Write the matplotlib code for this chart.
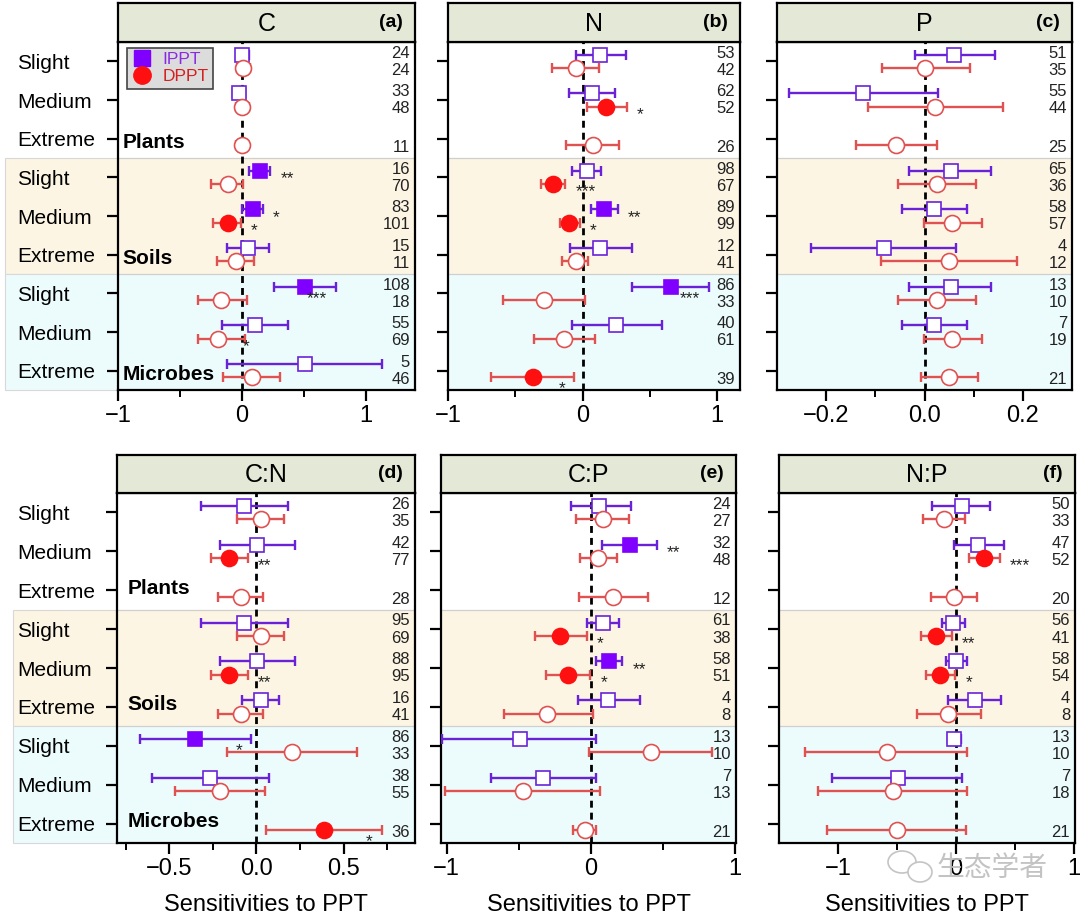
import numpy as np
import matplotlib.pyplot as plt
import matplotlib.transforms as mtransforms
from matplotlib.lines import Line2D
from matplotlib.patches import Rectangle, Ellipse

plt.rcParams['font.family'] = ['Liberation Sans', 'DejaVu Sans']

nan = np.nan

# rows top -> bottom
row_names = ['Slight', 'Medium', 'Extreme'] * 3
group_names = ['Plants', 'Soils', 'Microbes']
titles = ['C', 'N', 'P', 'C:N', 'C:P', 'N:P']
tags = ['(a)', '(b)', '(c)', '(d)', '(e)', '(f)']

# (a) C
c_ippt = [0.005, -0.02, nan, 0.15, 0.09, 0.05, 0.51, 0.11, 0.51]
c_ippt_lo = [-0.04, -0.07, nan, 0.06, 0.0, -0.12, 0.26, -0.16, -0.12]
c_ippt_hi = [0.06, 0.03, nan, 0.23, 0.17, 0.22, 0.76, 0.37, 1.13]
c_ippt_n = [24, 33, None, 16, 83, 15, 108, 55, 5]
c_ippt_sig = ['', '', '', '**', '*', '', '***', '', '']
c_dppt = [0.01, 0.005, 0.0, -0.115, -0.115, -0.05, -0.17, -0.19, 0.086]
c_dppt_lo = [-0.04, -0.05, -0.05, -0.25, -0.23, -0.2, -0.35, -0.35, -0.15]
c_dppt_hi = [0.07, 0.06, 0.05, 0.01, -0.01, 0.1, 0.04, 0.03, 0.31]
c_dppt_n = [24, 48, 11, 70, 101, 11, 18, 69, 46]
c_dppt_sig = ['', '', '', '', '*', '', '', '', '']

# (b) N
n_ippt = [0.13, 0.07, nan, 0.03, 0.16, 0.13, 0.66, 0.25, nan]
n_ippt_lo = [-0.05, -0.1, nan, -0.08, 0.06, -0.09, 0.37, -0.08, nan]
n_ippt_hi = [0.32, 0.24, nan, 0.14, 0.26, 0.37, 0.94, 0.59, nan]
n_ippt_n = [53, 62, None, 98, 89, 12, 86, 40, None]
n_ippt_sig = ['', '', '', '', '**', '', '***', '', '']
n_dppt = [-0.05, 0.175, 0.08, -0.22, -0.1, -0.05, -0.29, -0.14, -0.37]
n_dppt_lo = [-0.23, 0.03, -0.12, -0.31, -0.17, -0.15, -0.59, -0.36, -0.68]
n_dppt_hi = [0.12, 0.33, 0.27, -0.13, -0.02, 0.04, 0.02, 0.09, -0.06]
n_dppt_n = [42, 52, 26, 67, 99, 41, 33, 61, 39]
n_dppt_sig = ['', '*', '', '***', '*', '', '', '', '*']

# (c) P
p_ippt = [0.061, -0.125, nan, 0.053, 0.02, -0.082, 0.053, 0.02, nan]
p_ippt_lo = [-0.019, -0.276, nan, -0.031, -0.046, -0.23, -0.031, -0.046, nan]
p_ippt_hi = [0.143, 0.027, nan, 0.136, 0.086, 0.065, 0.136, 0.086, nan]
p_ippt_n = [51, 55, None, 65, 58, 4, 13, 7, None]
p_ippt_sig = [''] * 9
p_dppt = [0.001, 0.022, -0.058, 0.025, 0.055, 0.05, 0.025, 0.055, 0.05]
p_dppt_lo = [-0.086, -0.115, -0.14, -0.054, -0.002, -0.088, -0.054, -0.002, -0.007]
p_dppt_hi = [0.092, 0.16, 0.026, 0.105, 0.116, 0.189, 0.105, 0.116, 0.108]
p_dppt_n = [35, 44, 25, 36, 57, 12, 10, 19, 21]
p_dppt_sig = [''] * 9

# (d) C:N
cn_ippt = [-0.071, 0.006, nan, -0.071, 0.006, 0.029, -0.35, -0.268, nan]
cn_ippt_lo = [-0.32, -0.21, nan, -0.32, -0.21, -0.08, -0.67, -0.6, nan]
cn_ippt_hi = [0.18, 0.22, nan, 0.18, 0.22, 0.13, -0.03, 0.07, nan]
cn_ippt_n = [26, 42, None, 95, 88, 16, 86, 38, None]
cn_ippt_sig = ['', '', '', '', '', '', '*', '', '']
cn_dppt = [0.029, -0.157, -0.086, 0.029, -0.157, -0.086, 0.205, -0.21, 0.387]
cn_dppt_lo = [-0.11, -0.26, -0.22, -0.11, -0.26, -0.22, -0.17, -0.47, 0.057]
cn_dppt_hi = [0.16, -0.05, 0.04, 0.16, -0.05, 0.04, 0.58, 0.048, 0.72]
cn_dppt_n = [35, 77, 28, 69, 95, 41, 33, 55, 36]
cn_dppt_sig = ['', '**', '', '', '**', '', '', '', '*']

# (e) C:P
cp_ippt = [0.06, 0.27, nan, 0.088, 0.127, 0.118, -0.49, -0.33, nan]
cp_ippt_lo = [-0.14, 0.076, nan, -0.023, 0.037, -0.09, -1.03, -0.69, nan]
cp_ippt_hi = [0.28, 0.46, nan, 0.2, 0.22, 0.34, 0.037, 0.037, nan]
cp_ippt_n = [24, 32, None, 61, 58, 4, 13, 7, None]
cp_ippt_sig = ['', '**', '', '', '**', '', '', '', '']
cp_dppt = [0.083, 0.053, 0.157, -0.212, -0.16, -0.3, 0.42, -0.47, -0.04]
cp_dppt_lo = [-0.10, -0.074, -0.08, -0.39, -0.31, -0.6, -0.01, -1.01, -0.12]
cp_dppt_hi = [0.265, 0.18, 0.40, -0.028, -0.005, 0.014, 0.84, 0.065, 0.037]
cp_dppt_n = [27, 48, 12, 38, 51, 8, 10, 13, 21]
cp_dppt_sig = ['', '', '', '*', '*', '', '', '', '']

# (f) N:P
np_ippt = [0.048, 0.19, nan, -0.028, 0.0, 0.16, -0.014, -0.49, nan]
np_ippt_lo = [-0.2, -0.017, nan, -0.12, -0.087, -0.065, -0.065, -1.05, nan]
np_ippt_hi = [0.29, 0.41, nan, 0.076, 0.09, 0.386, 0.04, 0.056, nan]
np_ippt_n = [50, 47, None, 56, 58, 4, 13, 7, None]
np_ippt_sig = [''] * 9
np_dppt = [-0.1, 0.24, -0.017, -0.17, -0.135, -0.065, -0.586, -0.535, -0.496]
np_dppt_lo = [-0.28, 0.11, -0.21, -0.3, -0.256, -0.33, -1.276, -1.17, -1.09]
np_dppt_hi = [0.08, 0.37, 0.18, -0.037, -0.008, 0.21, 0.096, 0.096, 0.085]
np_dppt_n = [33, 52, 20, 41, 54, 8, 10, 18, 21]
np_dppt_sig = ['', '***', '', '**', '*', '', '', '', '']

# star without a filled marker: (panel, row, series)
lone_stars = [(0, 7, 'dppt', '*')]

# axis ticks
major_ticks = [[-1, 0, 1], [-1, 0, 1], [-0.2, 0.0, 0.2], [-0.5, 0.0, 0.5], [-1, 0, 1], [-1, 0, 1]]
major_labels = [['\u22121', '0', '1'], ['\u22121', '0', '1'], ['\u22120.2', '0.0', '0.2'],
                ['\u22120.5', '0.0', '0.5'], ['\u22121', '0', '1'], ['\u22121', '0', '1']]
minor_ticks = [[-0.5, 0.5], [-0.5, 0.5], [-0.1, 0.1], [-0.75, -0.25, 0.25, 0.75], [-0.5, 0.5], [-0.5, 0.5]]
xlims = [(-1, 1.4), (-1, 1.17), (-0.3, 0.3), (-0.8, 0.91), (-1.04, 1.01), (-1.5, 1.01)]

panels = [
    (c_ippt, c_ippt_lo, c_ippt_hi, c_ippt_n, c_ippt_sig, c_dppt, c_dppt_lo, c_dppt_hi, c_dppt_n, c_dppt_sig),
    (n_ippt, n_ippt_lo, n_ippt_hi, n_ippt_n, n_ippt_sig, n_dppt, n_dppt_lo, n_dppt_hi, n_dppt_n, n_dppt_sig),
    (p_ippt, p_ippt_lo, p_ippt_hi, p_ippt_n, p_ippt_sig, p_dppt, p_dppt_lo, p_dppt_hi, p_dppt_n, p_dppt_sig),
    (cn_ippt, cn_ippt_lo, cn_ippt_hi, cn_ippt_n, cn_ippt_sig, cn_dppt, cn_dppt_lo, cn_dppt_hi, cn_dppt_n, cn_dppt_sig),
    (cp_ippt, cp_ippt_lo, cp_ippt_hi, cp_ippt_n, cp_ippt_sig, cp_dppt, cp_dppt_lo, cp_dppt_hi, cp_dppt_n, cp_dppt_sig),
    (np_ippt, np_ippt_lo, np_ippt_hi, np_ippt_n, np_ippt_sig, np_dppt, np_dppt_lo, np_dppt_hi, np_dppt_n, np_dppt_sig),
]

# colours
purple = '#8000ff'
purple_bar = '#6a22d8'
red = '#ff1010'
red_bar = '#e05252'
soil_col = '#fdf5e3'
microbe_col = '#ecfcfd'
title_col = '#e3e9d6'

W, H = 1080, 917
fig = plt.figure(figsize=(W / 100, H / 100), dpi=100)


def box(x0, x1, y0, y1):
    return [x0 / W, 1 - y1 / H, (x1 - x0) / W, (y1 - y0) / H]


panel_x = [(118, 415), (448, 740), (777, 1072), (117, 415), (441, 736), (779, 1075)]
panel_y = [(3, 42, 390)] * 3 + [(455, 493, 843)] * 3
band_left = {0: 5, 3: 13}
group_x = {0: 0.015, 3: 0.035}
group_dy = {0: 0.1, 3: -0.05}

rows = np.arange(1, 10)
off = 0.17


def draw_series(ax, ypos, mean, lo, hi, sig, face, bar, marker, ms):
    mean = np.array(mean, dtype=float)
    lo = np.array(lo, dtype=float)
    hi = np.array(hi, dtype=float)
    ok = ~np.isnan(mean)
    ax.errorbar(mean[ok], ypos[ok], xerr=[mean[ok] - lo[ok], hi[ok] - mean[ok]], fmt='none',
                ecolor=bar, elinewidth=1.7, capsize=3.5, capthick=1.7, zorder=3)
    for k in np.where(ok)[0]:
        filled = sig[k] != ''
        ax.plot(mean[k], ypos[k], marker=marker, ms=ms, ls='none',
                mfc=face if filled else 'white', mec=face if filled else bar,
                mew=1.2, zorder=4)


def put_star(ax, k, hi, y, txt, span):
    # microbe rows: stars sit under the bar end; others to the right of it
    if k >= 6:
        ax.text(hi - 0.03 * span, y + 0.3, txt, ha='right', va='center',
                fontsize=12.5, color='#222222', zorder=5)
    else:
        ax.text(hi + 0.035 * span, y + 0.2, txt, ha='left', va='center',
                fontsize=12.5, color='#222222', zorder=5)


for i in range(6):
    x0, x1 = panel_x[i]
    yt, yp, yb = panel_y[i]
    ax = fig.add_axes(box(x0, x1, yp, yb))
    tax = fig.add_axes(box(x0, x1, yt, yp))

    # title bar
    tax.set_facecolor(title_col)
    tax.set_xticks([])
    tax.set_yticks([])
    for s in tax.spines.values():
        s.set_linewidth(1.6)
    tax.text(0.5, 0.47, titles[i], ha='center', va='center', fontsize=18, transform=tax.transAxes)
    tax.text(1 - 12 / (x1 - x0), 0.5, tags[i], ha='right', va='center', fontsize=14,
             fontweight='bold', transform=tax.transAxes)

    (im, il, ih, inn, isg, dm, dl, dh, dn, dsg) = panels[i]
    span = xlims[i][1] - xlims[i][0]

    ax.axhspan(3.5, 6.5, color=soil_col, zorder=0, lw=0)
    ax.axhspan(6.5, 9.5, color=microbe_col, zorder=0, lw=0)
    ax.axhline(3.5, color='#cfcfcf', lw=0.9, zorder=0.5)
    ax.axhline(6.5, color='#cfcfcf', lw=0.9, zorder=0.5)
    if i in band_left:
        tr = mtransforms.blended_transform_factory(fig.transFigure, ax.transData)
        bx = band_left[i] / W
        bw = x0 / W - bx
        fig.add_artist(Rectangle((bx, 3.5), bw, 3, transform=tr, facecolor=soil_col,
                                 edgecolor='#d8d8d8', lw=0.8, zorder=-1))
        fig.add_artist(Rectangle((bx, 6.5), bw, 3, transform=tr, facecolor=microbe_col,
                                 edgecolor='#d8d8d8', lw=0.8, zorder=-1))

    ax.axvline(0, color='black', ls=(0, (2.5, 1.8)), lw=2, zorder=2)

    draw_series(ax, rows - off, im, il, ih, isg, purple, purple_bar, 's', 10.5)
    draw_series(ax, rows + off, dm, dl, dh, dsg, red, red_bar, 'o', 11.5)

    # sample sizes and significance
    trn = mtransforms.blended_transform_factory(ax.transAxes, ax.transData)
    xr = 1 - 5 / (x1 - x0)
    for k in range(9):
        if inn[k] is not None:
            ax.text(xr, rows[k] - 0.21, str(inn[k]), transform=trn, ha='right', va='center',
                    fontsize=12, color='#222222')
        if dn[k] is not None:
            ax.text(xr, rows[k] + 0.23, str(dn[k]), transform=trn, ha='right', va='center',
                    fontsize=12, color='#222222')
        if isg[k]:
            put_star(ax, k, ih[k], rows[k] - off, isg[k], span)
        if dsg[k]:
            put_star(ax, k, dh[k], rows[k] + off, dsg[k], span)
    for (pi, rk, ser, txt) in lone_stars:
        if pi == i:
            hh = dh[rk] if ser == 'dppt' else ih[rk]
            yy = rows[rk] + off if ser == 'dppt' else rows[rk] - off
            ax.text(hh - 0.01 * span, yy + 0.2, txt, ha='left', va='center',
                    fontsize=12.5, color='#222222', zorder=5)

    ax.set_xlim(*xlims[i])
    ax.set_ylim(9.5, 0.5)
    ax.set_xticks(major_ticks[i])
    ax.set_xticklabels(major_labels[i])
    ax.set_xticks(minor_ticks[i], minor=True)
    ax.set_yticks(rows)
    ax.tick_params(axis='x', which='major', direction='out', length=8, width=1.6,
                   labelsize=17, pad=3)
    ax.tick_params(axis='x', which='minor', direction='out', length=5, width=1.4)
    ax.tick_params(axis='y', direction='out', length=8, width=1.6)
    for s in ax.spines.values():
        s.set_linewidth(1.6)

    if i in (0, 3):
        # group labels
        for g in range(3):
            ax.text(group_x[i], 3 * g + 3 + group_dy[i], group_names[g], transform=trn,
                    ha='left', va='center', fontsize=15, fontweight='bold', zorder=5)
        ax.set_yticklabels(row_names)
        ax.tick_params(axis='y', labelsize=15, pad=(x0 - 17) / 100 * 72 - 8 * 1.0)
        for lab in ax.get_yticklabels():
            lab.set_ha('left')
    else:
        ax.set_yticklabels([])

    if i >= 3:
        ax.set_xlabel('Sensitivities to PPT', fontsize=17, labelpad=10)

    if i == 0:
        handles = [Line2D([], [], marker='s', ls='none', mfc=purple, mec=purple, ms=11),
                   Line2D([], [], marker='o', ls='none', mfc=red, mec=red, ms=12.5)]
        leg = ax.legend(handles, ['IPPT', 'DPPT'], loc='upper left', bbox_to_anchor=(0.03, 0.983),
                        borderaxespad=0, fontsize=12.5, frameon=True, fancybox=False,
                        facecolor='#dcdcdc', edgecolor='#444444', framealpha=1,
                        labelcolor=['#8a2be2', '#d42020'], handletextpad=0.6,
                        borderpad=0.25, labelspacing=0.1, handlelength=1.2)
        leg.get_frame().set_linewidth(1.2)
        leg.set_zorder(6)

# watermark
fig.text(992 / W, 1 - 868 / H, '生态学者', ha='center', va='center', fontsize=20,
         color='#bdbdbd', family=['Noto Sans CJK SC', 'DejaVu Sans'], alpha=0.9)
fig.add_artist(Ellipse((902 / W, 1 - 862 / H), 28 / W, 22 / H, transform=fig.transFigure,
                       fill=False, edgecolor='#c4c4c4', lw=1.2))
fig.add_artist(Ellipse((920 / W, 1 - 872 / H), 24 / W, 20 / H, transform=fig.transFigure,
                       facecolor='white', edgecolor='#c4c4c4', lw=1.2))

fig.savefig('out.png', dpi=100)
